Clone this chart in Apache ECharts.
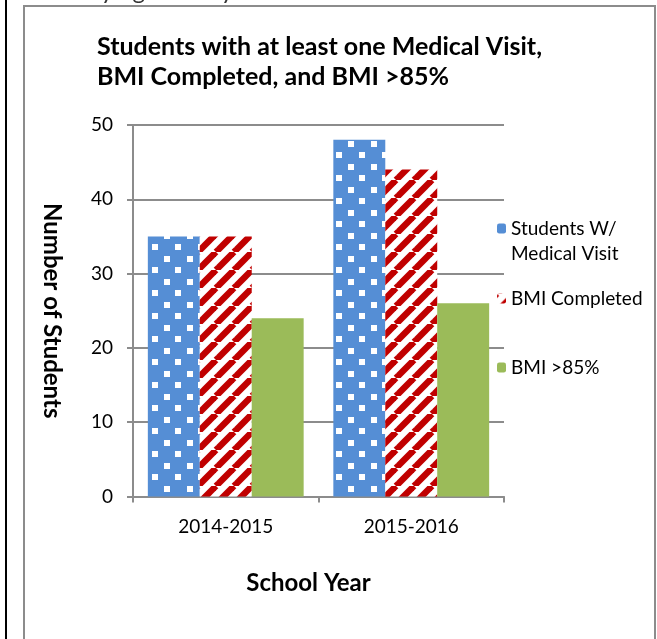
<!DOCTYPE html>
<html>
<head>
<meta charset="utf-8">
<script src="https://cdn.jsdelivr.net/npm/echarts@6/dist/echarts.min.js"></script>
<style>
html,body{margin:0;padding:0;background:#fff;}
#chart{width:657px;height:639px;}
</style>
</head>
<body>
<div id="chart"></div>
<script>
const categories = ['2014-2015', '2015-2016'];
const seriesNames = ['Students W/ Medical Visit', 'BMI Completed', 'BMI >85%'];
const medicalVisit = [35, 48];
const bmiCompleted = [35, 44];
const bmiOver85 = [24, 26];
const yMin = 0, yMax = 50, yInterval = 10;

const FONT = 'Lato, "Open Sans", sans-serif';

function dotsPattern() {
  const s = 23;
  const c = document.createElement('canvas');
  c.width = s; c.height = s;
  const g = c.getContext('2d');
  g.fillStyle = '#558ed5';
  g.fillRect(0, 0, s, s);
  g.fillStyle = '#ffffff';
  g.fillRect(3, 3, 6, 6);
  g.fillRect(14, 14, 6, 6);
  return c;
}
function stripePattern() {
  const s = 18;
  const c = document.createElement('canvas');
  c.width = s; c.height = s;
  const g = c.getContext('2d');
  g.fillStyle = '#ffffff';
  g.fillRect(0, 0, s, s);
  g.strokeStyle = '#c00000';
  g.lineWidth = 6.5;
  for (const o of [-s, 0, s]) {
    g.beginPath();
    g.moveTo(o, s);
    g.lineTo(o + s, 0);
    g.stroke();
  }
  return c;
}

const chart = echarts.init(document.getElementById('chart'), null, {renderer: 'canvas'});
const option = {
  backgroundColor: '#ffffff',
  animation: false,
  title: {
    text: 'Students with at least one Medical Visit,\nBMI Completed, and BMI >85%',
    left: 97, top: 32,
    padding: 0,
    textStyle: {fontFamily: FONT, fontWeight: 'bold', fontSize: 25, lineHeight: 30, color: '#000'}
  },
  legend: [
    {data: [{name: seriesNames[0], itemStyle: {color: '#558ed5'}}], orient: 'vertical', left: 497, top: 191, padding: 0,
     itemWidth: 9, itemHeight: 10, itemGap: 0,
     textStyle: {fontFamily: FONT, fontSize: 19, lineHeight: 25, color: '#000'},
     formatter: function () { return '\nStudents W/\nMedical Visit'; }},
    {data: [seriesNames[1]], orient: 'vertical', left: 497, top: 287, padding: 0,
     itemWidth: 9, itemHeight: 10,
     textStyle: {fontFamily: FONT, fontSize: 19, lineHeight: 23, color: '#000'}},
    {data: [seriesNames[2]], orient: 'vertical', left: 497, top: 356, padding: 0,
     itemWidth: 9, itemHeight: 10,
     textStyle: {fontFamily: FONT, fontSize: 19, lineHeight: 23, color: '#000'}}
  ],
  grid: {left: 133, right: 153, top: 125, bottom: 142.5, containLabel: false},
  xAxis: {
    type: 'category',
    data: categories,
    name: 'School Year',
    nameLocation: 'middle',
    nameGap: 75,
    nameTextStyle: {fontFamily: FONT, fontWeight: 'bold', fontSize: 24, color: '#000', padding: [0, 20, 0, 0]},
    axisLine: {lineStyle: {color: '#8c8c8c', width: 2}},
    axisTick: {show: true, length: 6, lineStyle: {color: '#8c8c8c', width: 2}},
    axisLabel: {fontFamily: FONT, fontSize: 19, color: '#000', margin: 21}
  },
  yAxis: {
    type: 'value',
    min: yMin, max: yMax, interval: yInterval,
    name: 'Number of Students',
    nameLocation: 'middle',
    nameRotate: -90,
    nameGap: 69,
    nameTextStyle: {fontFamily: FONT, fontWeight: 'bold', fontSize: 24, color: '#000'},
    axisLine: {show: true, lineStyle: {color: '#8c8c8c', width: 2}},
    axisTick: {show: true, length: 6, lineStyle: {color: '#8c8c8c', width: 2}},
    axisLabel: {fontFamily: FONT, fontSize: 19, color: '#000', margin: 20},
    splitLine: {lineStyle: {color: '#8c8c8c', width: 2}}
  },
  series: [
    {name: seriesNames[0], type: 'bar', data: medicalVisit, barGap: '0%', barCategoryGap: '16%',
     itemStyle: {color: {image: dotsPattern(), repeat: 'repeat'}}},
    {name: seriesNames[1], type: 'bar', data: bmiCompleted, barGap: '0%', barCategoryGap: '16%',
     itemStyle: {color: {image: stripePattern(), repeat: 'repeat'}}},
    {name: seriesNames[2], type: 'bar', data: bmiOver85, barGap: '0%', barCategoryGap: '16%',
     itemStyle: {color: '#9bbb59'}}
  ],
  graphic: [
    {type: 'text', left: 32, top: -21, silent: true,
     style: {text: 'Identifying Obesity in the School', fontFamily: FONT, fontSize: 24, fill: '#333'}},
    {type: 'line', silent: true, shape: {x1: 6, y1: 0, x2: 6, y2: 639}, style: {stroke: '#000', lineWidth: 2}},
    {type: 'rect', silent: true, shape: {x: 24, y: 6, width: 631, height: 700},
     style: {fill: null, stroke: '#8c8c8c', lineWidth: 2}}
  ]
};
chart.setOption(option);
</script>
</body>
</html>
